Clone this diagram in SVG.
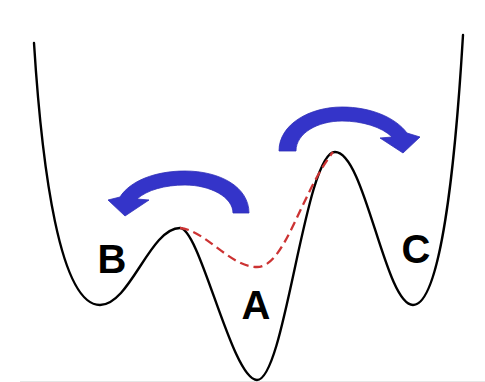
<svg xmlns="http://www.w3.org/2000/svg" width="485" height="382" viewBox="0 0 485 382">
  <style>
    .curve { fill: none; stroke: #000; stroke-width: 2.4; stroke-linecap: round; stroke-linejoin: round; }
    .path { fill: none; stroke: #cc3333; stroke-width: 2.3; stroke-dasharray: 9 5; }
    .arrow { fill: #3434c9; stroke: #2e2eb8; stroke-width: 0.8; stroke-linejoin: round; }
    .lbl { font-family: "Liberation Sans", Arial, sans-serif; font-weight: bold; font-size: 40px; fill: #000; text-anchor: middle; }
  </style>
  <rect width="485" height="382" fill="#fff"/>
  <line x1="20" y1="381.5" x2="485" y2="381.5" stroke="#e6e6e6" stroke-width="1"/>
  <g id="landscape">
    <path class="curve" d="M 34 43 C 42 170, 60 305, 100 305 C 130 305, 150 228, 180 228 C 200 228, 232 380, 257 380 C 285 380, 305 152, 335 152 C 365 152, 385 305, 413 305 C 440 305, 455 170, 463 35"/>
  </g>
  <g id="connectors">
    <path id="pathway" class="path" d="M 180 228 C 205 230, 230 267, 257 267 C 285 267, 300 195, 333 152"/>
    <path id="arrow-left" class="arrow" d="M 249 213 C 249 187, 220 171, 185 171 C 155 171, 130 181, 120 197 L 108 200 L 125 216 L 149 200 L 137 199 C 147 190, 165 185, 185 185 C 210 185, 233 197, 233 213 Z"/>
    <path id="arrow-right" class="arrow" d="M 279 151 C 279 124, 310 107, 342 107 C 370 107, 395 117, 407 133 L 420 137 L 403 153 L 380 138 L 392 137 C 382 127, 362 121, 342 121 C 318 121, 296 133, 296 151 Z"/>
  </g>
  <g id="node-B"><text class="lbl" x="112" y="273">B</text></g>
  <g id="node-A"><text class="lbl" x="256" y="319">A</text></g>
  <g id="node-C"><text class="lbl" x="416" y="263">C</text></g>
</svg>
